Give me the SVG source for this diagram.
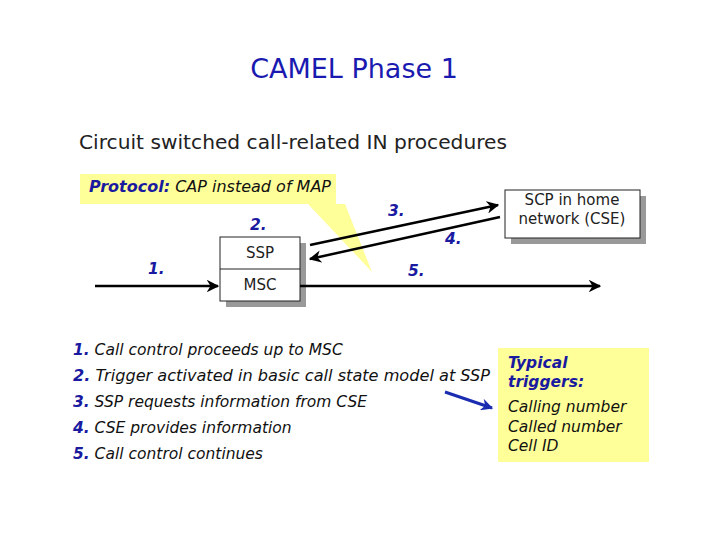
<svg xmlns="http://www.w3.org/2000/svg" width="720" height="540" viewBox="0 0 720 540">
<style>
text{font-family:"DejaVu Sans",Verdana,sans-serif}
.t{font-size:15.5px;font-style:italic;fill:#111}
.n{font-size:15.5px;font-style:italic;font-weight:bold;fill:#1a1aa0}
.box{fill:#fff;stroke:#222;stroke-width:1}
.sh{fill:#999}
.c{stroke:#000;stroke-width:2.5;fill:none;marker-end:url(#a)}
.lab{font-size:15px;fill:#222;text-anchor:middle}
</style>
<defs>
<marker id="a" viewBox="0 0 10 10" refX="9" refY="5" markerWidth="5" markerHeight="5" orient="auto" markerUnits="strokeWidth"><path d="M0,0L10,5L0,10L3,5z" fill="#000"/></marker>
<marker id="b" viewBox="0 0 10 10" refX="9" refY="5" markerWidth="4" markerHeight="4" orient="auto" markerUnits="strokeWidth"><path d="M0,0L10,5L0,10L3,5z" fill="#1a2db0"/></marker>
</defs>
<rect width="720" height="540" fill="#fff"/>
<text x="354" y="78" font-size="27" fill="#1a1ab0" text-anchor="middle">CAMEL Phase 1</text>
<text x="79" y="149" font-size="20" fill="#222" textLength="428" lengthAdjust="spacingAndGlyphs">Circuit switched call-related IN procedures</text>
<g id="callout">
<path d="M80,174H336V204H345L372,272L308,204H80Z" fill="#ffff99"/>
<text x="89" y="192" font-size="15" textLength="242" lengthAdjust="spacingAndGlyphs"><tspan font-weight="bold" font-style="italic" fill="#1a1aa0">Protocol:</tspan><tspan font-style="italic" fill="#111"> CAP instead of MAP</tspan></text>
</g>
<g id="msc">
<rect class="sh" x="226" y="243" width="80" height="64"/>
<rect class="box" x="220" y="237" width="80" height="64"/>
<line x1="220" y1="269" x2="300" y2="269" stroke="#222"/>
<text class="lab" x="260" y="258">SSP</text>
<text class="lab" x="260" y="290">MSC</text>
</g>
<g id="scp">
<rect class="sh" x="511" y="196" width="135" height="48"/>
<rect class="box" x="505" y="190" width="135" height="48"/>
<text class="lab" x="572" y="205">SCP in home</text>
<text class="lab" x="572" y="224">network (CSE)</text>
</g>
<g id="connectors">
<line class="c" x1="310" y1="245" x2="498" y2="205"/>
<line class="c" x1="500" y1="217" x2="310" y2="259"/>
<line class="c" x1="95" y1="286" x2="218" y2="286"/>
<line class="c" x1="300" y1="286" x2="600" y2="286"/>
<line x1="445" y1="392" x2="492" y2="408" stroke="#1a2db0" stroke-width="3" marker-end="url(#b)"/>
</g>
<text class="n" x="148" y="274">1.</text>
<text class="n" x="250" y="230">2.</text>
<text class="n" x="388" y="216">3.</text>
<text class="n" x="445" y="244">4.</text>
<text class="n" x="408" y="276">5.</text>
<g id="list">
<text class="t" x="73" y="355"><tspan class="n">1.</tspan> Call control proceeds up to MSC</text>
<text class="t" x="73" y="381" textLength="417" lengthAdjust="spacingAndGlyphs"><tspan class="n">2.</tspan> Trigger activated in basic call state model at SSP</text>
<text class="t" x="73" y="407"><tspan class="n">3.</tspan> SSP requests information from CSE</text>
<text class="t" x="73" y="433"><tspan class="n">4.</tspan> CSE provides information</text>
<text class="t" x="73" y="459"><tspan class="n">5.</tspan> Call control continues</text>
</g>
<g id="triggers">
<rect x="498" y="348" width="151" height="114" fill="#ffff99"/>
<text class="n" x="508" y="368" font-size="16">Typical</text>
<text class="n" x="508" y="387" font-size="16">triggers:</text>
<text class="t" x="508" y="412" font-size="16">Calling number</text>
<text class="t" x="508" y="432" font-size="16">Called number</text>
<text class="t" x="508" y="451" font-size="16">Cell ID</text>
</g>
</svg>
